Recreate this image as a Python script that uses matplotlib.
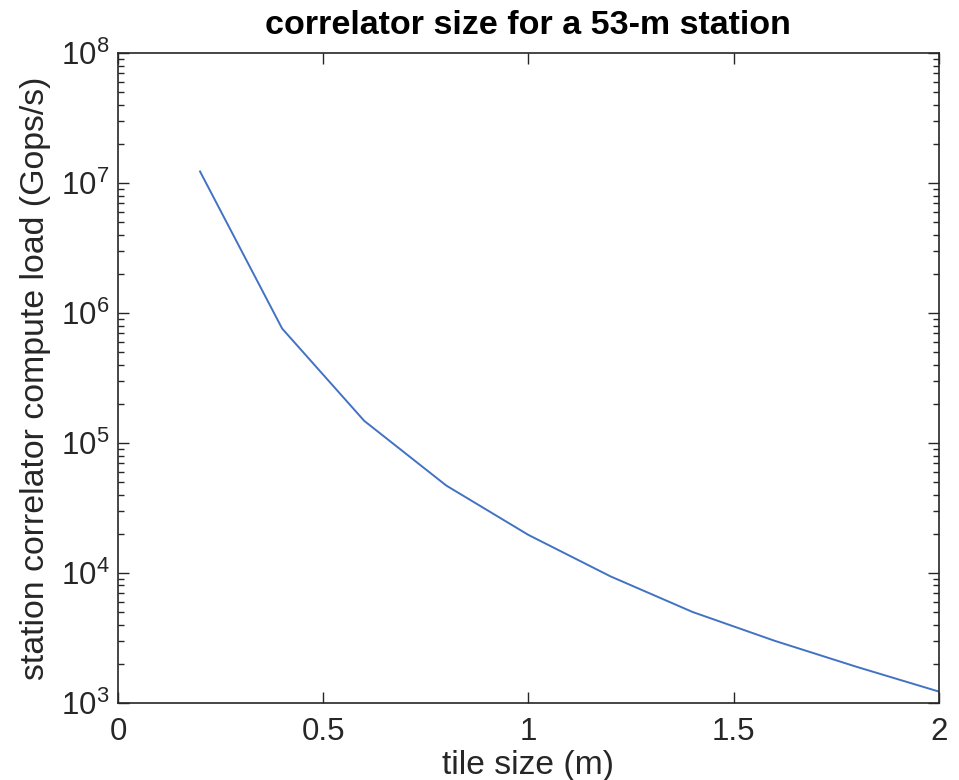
import numpy as np
import matplotlib
matplotlib.use('Agg')
import matplotlib.pyplot as plt
from matplotlib.ticker import LogLocator, FixedLocator, NullFormatter

plt.rcParams['font.family'] = ['Liberation Sans', 'DejaVu Sans']
plt.rcParams['mathtext.default'] = 'regular'

# tile size (m) vs station correlator compute load (Gops/s)
tile_size = [0.2, 0.4, 0.6, 0.8, 1.0, 1.2, 1.4, 1.6, 1.8, 2.0]
compute_load = [1.23e7, 7.6e5, 1.48e5, 4.7e4, 1.96e4, 9.4e3, 5.0e3, 3.0e3, 1.89e3, 1.22e3]
x_ticks = [0, 0.5, 1, 1.5, 2]
x_ticklabels = ['0', '0.5', '1', '1.5', '2']

dark = '#262626'

fig = plt.figure(figsize=(9.59, 7.8), dpi=100)
ax = fig.add_axes([0.123, 0.099, 0.856, 0.8327])

ax.plot(tile_size, compute_load, color='#4272C4', lw=1.4)

ax.set_yscale('log')
ax.set_xlim(0, 2)
ax.set_ylim(1e3, 1e8)
ax.xaxis.set_major_locator(FixedLocator(x_ticks))
ax.set_xticklabels(x_ticklabels)
ax.yaxis.set_minor_locator(LogLocator(base=10, subs=np.arange(2, 10), numticks=20))
ax.yaxis.set_minor_formatter(NullFormatter())
ax.set_yticks([1e3, 1e4, 1e5, 1e6, 1e7, 1e8])
ax.set_yticklabels(['$10^{%d}$' % k for k in range(3, 9)])

ax.tick_params(which='both', direction='in', top=True, right=True, colors=dark,
               labelsize=22.5, width=1.0)
ax.tick_params(which='major', length=8, pad=6)
ax.tick_params(which='minor', length=4.5)
ax.tick_params(axis='x', which='major', pad=10)
for s in ax.spines.values():
    s.set_color(dark)
    s.set_linewidth(1.2)

ax.set_xlabel('tile size (m)', fontsize=24.2, color=dark)
ax.set_ylabel('station correlator compute load (Gops/s)', fontsize=24.4, color=dark)
ax.xaxis.set_label_coords(0.5, -0.073)
ax.yaxis.set_label_coords(-0.082, 0.5)
ax.set_title('correlator size for a 53-m station', fontsize=24.5, fontweight='bold', pad=14)

fig.savefig('out.png', dpi=100)
